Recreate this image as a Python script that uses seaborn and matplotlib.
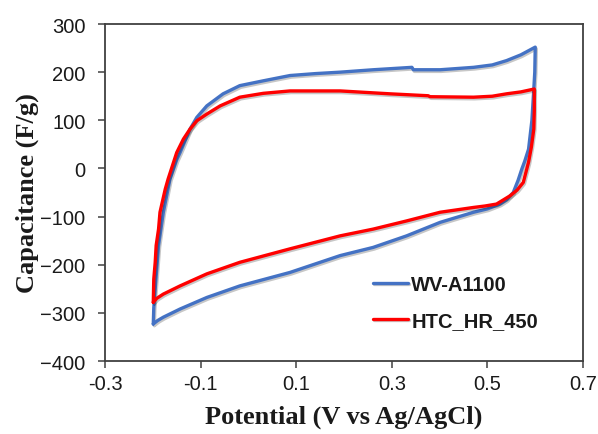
import pandas as pd
import seaborn as sns
from matplotlib import pyplot as plt
import matplotlib.patheffects as pe

# CV loops: anodic sweep from -0.2 V to 0.6 V, then cathodic back
wv_potential = [-0.199, -0.198, -0.195, -0.188, -0.178, -0.164, -0.150, -0.143, -0.122, -0.108,
                -0.087, -0.053, -0.018, 0.031, 0.087, 0.140, 0.192, 0.261, 0.342, 0.345,
                0.401, 0.471, 0.510, 0.540, 0.570, 0.600,
                0.599, 0.597, 0.593, 0.586, 0.578, 0.572, 0.564, 0.554, 0.540, 0.526,
                0.500, 0.471, 0.401, 0.331, 0.261, 0.192, 0.087, -0.018, -0.087, -0.143,
                -0.178, -0.190, -0.199]
wv_capacitance = [-323, -290, -250, -160, -91, -22, 18, 33, 82, 106,
                  130, 155, 172, 182, 193, 197, 200, 205, 210, 205,
                  205, 210, 215, 224, 236, 252,
                  200, 165, 100, 40, 15, -1, -25, -50, -65, -74,
                  -84, -91, -112, -140, -164, -181, -216, -244, -268, -292,
                  -309, -316, -323]

htc_potential = [-0.199, -0.198, -0.195, -0.193, -0.188, -0.185, -0.174, -0.168, -0.150, -0.136,
                 -0.122, -0.108, -0.087, -0.059, -0.018, 0.031, 0.087, 0.192, 0.296, 0.376,
                 0.380, 0.471, 0.510, 0.540, 0.570, 0.598,
                 0.598, 0.597, 0.592, 0.586, 0.575, 0.562, 0.547, 0.519, 0.495, 0.471,
                 0.401, 0.331, 0.261, 0.192, 0.087, -0.018, -0.087, -0.143, -0.178, -0.192,
                 -0.199]
htc_capacitance = [-278, -230, -195, -160, -126, -91, -43, -22, 33, 61,
                   82, 99, 113, 130, 148, 156, 161, 161, 155, 151,
                   149, 148, 150, 155, 159, 165,
                   120, 82, 45, 13, -29, -45, -57, -74, -78, -81,
                   -91, -109, -126, -140, -167, -195, -219, -244, -261, -270,
                   -278]

series_names = ["WV-A1100", "HTC_HR_450"]
series_colors = ["#4472C4", "#FF0000"]
x_ticks = [-0.3, -0.1, 0.1, 0.3, 0.5, 0.7]
y_ticks = [300, 200, 100, 0, -100, -200, -300, -400]

df = pd.concat([
    pd.DataFrame({"Potential": wv_potential, "Capacitance": wv_capacitance,
                  "Sample": series_names[0]}),
    pd.DataFrame({"Potential": htc_potential, "Capacitance": htc_capacitance,
                  "Sample": series_names[1]}),
], ignore_index=True)

sns.set_style("ticks")
plt.rcParams["font.family"] = ["Liberation Sans", "DejaVu Sans"]

fig = plt.figure(figsize=(5.98, 4.35), dpi=100)
ax = fig.add_axes([0.1756, 0.1678, 0.7994, 0.7747])

# estimator=None + sort=False keeps each loop in sweep order
sns.lineplot(data=df, x="Potential", y="Capacitance", hue="Sample", hue_order=series_names,
             palette=series_colors, sort=False, estimator=None, linewidth=2.4, ax=ax,
             path_effects=[pe.SimpleLineShadow(offset=(0.8, -1.2), alpha=0.22), pe.Normal()])

ax.set_xlim(-0.3, 0.7)
ax.set_ylim(-400, 300)
ax.set_xticks(x_ticks)
ax.set_yticks(y_ticks)
ax.set_xticklabels([f"{t:g}" for t in x_ticks])
ax.tick_params(axis="both", labelsize=14.5, direction="out", length=5, width=1.1,
               color="#404040", labelcolor="#1a1a1a")
ax.tick_params(axis="x", pad=4)
ax.tick_params(axis="y", pad=9)

for side in ["top", "right", "left", "bottom"]:
    ax.spines[side].set_visible(True)
    ax.spines[side].set_color("#404040")
    ax.spines[side].set_linewidth(1.3)

label_font = {"family": ["Liberation Serif"], "weight": "bold", "size": 19, "color": "#1a1a1a"}
ax.set_xlabel("Potential (V vs Ag/AgCl)", fontdict=label_font, labelpad=9)
ax.set_ylabel("Capacitance (F/g)", fontdict=label_font, labelpad=1)

handles, labels = ax.get_legend_handles_labels()
leg = ax.legend(handles, labels, loc="lower right", bbox_to_anchor=(0.944, 0.039), frameon=False,
                handlelength=1.75, handletextpad=0.15, labelspacing=0.85,
                prop={"weight": "bold", "size": 14.5})
for t in leg.get_texts():
    t.set_color("#1a1a1a")

fig.savefig("out.png", dpi=100)
